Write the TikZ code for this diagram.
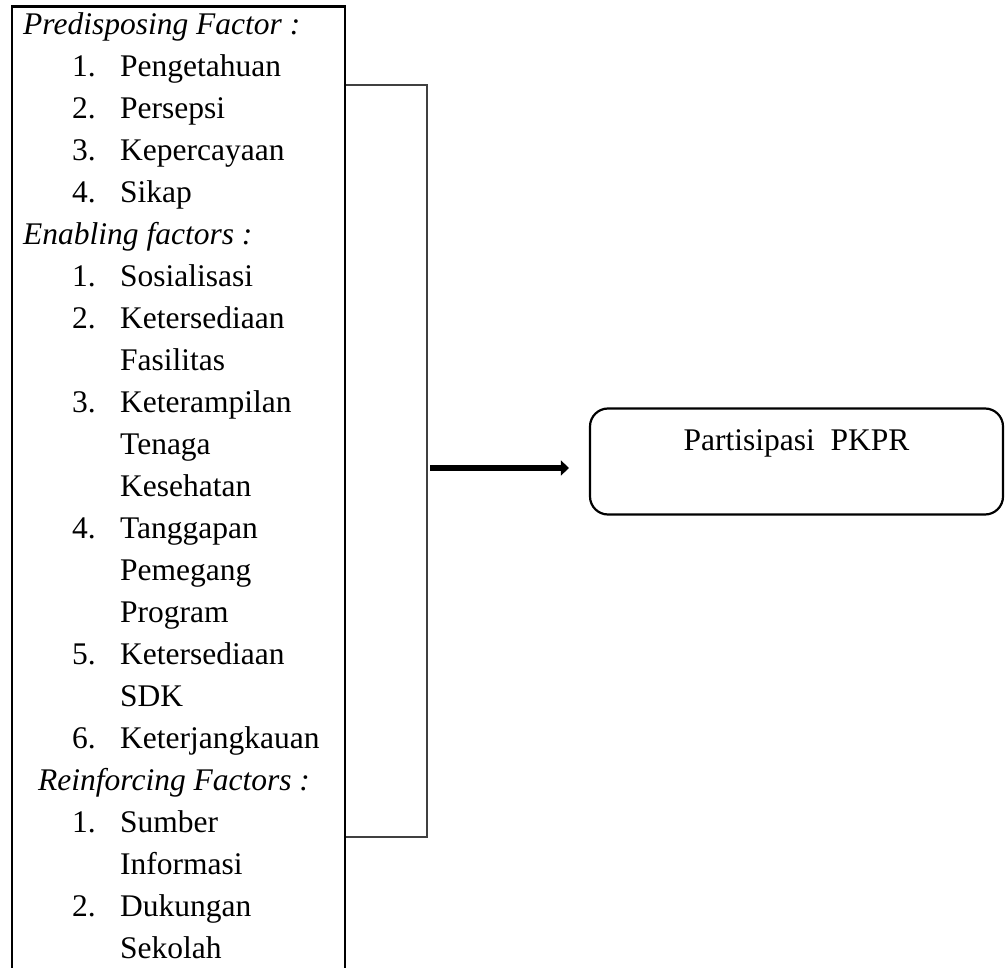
\documentclass[tikz,border=0pt]{standalone}
\usepackage{fontspec}
\setmainfont{Liberation Serif}
\usetikzlibrary{arrows.meta, positioning}

\newcommand{\butir}[1]{\hspace*{49pt}\makebox[48pt][l]{#1}}

\begin{document}
\begin{tikzpicture}[
    x=1pt, y=1pt,
    factorbox/.style={rectangle, draw=black, line width=2.8pt, minimum width=333pt, minimum height=1000pt, inner sep=0pt},
    listtext/.style={align=left, inner sep=0pt, font=\fontsize{31.5}{42}\selectfont},
    outcome/.style={rectangle, rounded corners=18pt, draw=black, line width=2.2pt, minimum width=413pt, minimum height=106pt, align=center, font=\fontsize{31.5}{42}\selectfont},
    bracket/.style={draw=black!75, line width=1.3pt},
    arrow/.style={-{Triangle[length=8pt,width=15pt]}, line width=6.8pt}
]
\useasboundingbox (0,0) rectangle (1007,-968);
\clip (0,0) rectangle (1007,-968);

\node[factorbox, anchor=north west] (factors) at (10.5,-5.5) {};
\node[listtext, anchor=north west] (list) at (23,-12.5) {%
\textit{Predisposing Factor :}\\
\butir{1.}Pengetahuan\\
\butir{2.}Persepsi\\
\butir{3.}Kepercayaan\\
\butir{4.}Sikap\\
\textit{Enabling factors :}\\
\butir{1.}Sosialisasi\\
\butir{2.}Ketersediaan\\
\butir{}Fasilitas\\
\butir{3.}Keterampilan\\
\butir{}Tenaga\\
\butir{}Kesehatan\\
\butir{4.}Tanggapan\\
\butir{}Pemegang\\
\butir{}Program\\
\butir{5.}Ketersediaan\\
\butir{}SDK\\
\butir{6.}Keterjangkauan\\
\hspace*{15pt}\textit{Reinforcing Factors :}\\
\butir{1.}Sumber\\
\butir{}Informasi\\
\butir{2.}Dukungan\\
\butir{}Sekolah};

\node[outcome] (pkpr) at (796.5,-461.5) {Partisipasi\ \ PKPR\\\mbox{}};

\coordinate (brtop) at (427,-85);
\coordinate (brbot) at (427,-837);
\coordinate (joint) at (427,-468);

\draw[bracket] (brtop -| factors.east) -- (brtop) -- (brbot) -- (brbot -| factors.east);
\draw[arrow, shorten <=3pt, shorten >=20pt] (joint) -- (joint -| pkpr.west);
\end{tikzpicture}
\end{document}
